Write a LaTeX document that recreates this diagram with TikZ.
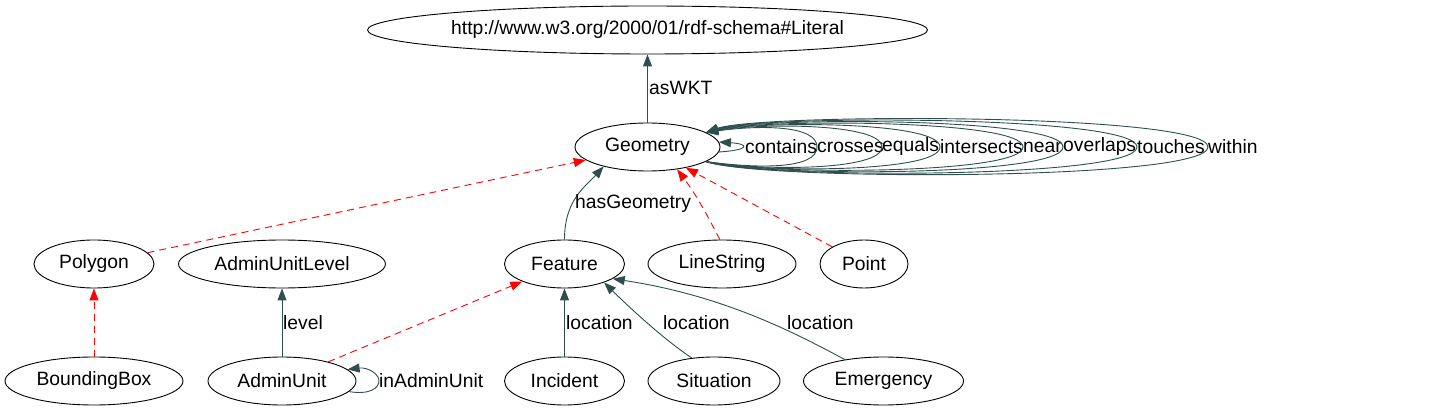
\documentclass[tikz,border=0pt]{standalone}
\usepackage{fontspec}
\setmainfont{Liberation Sans}
\usetikzlibrary{shapes.geometric,arrows.meta}
\definecolor{edgecol}{HTML}{2F4F4F}
\tikzset{
  cls/.style={ellipse,draw,line width=0.9pt,inner sep=0pt,minimum height=48pt,
    font=\fontsize{19.3}{22}\selectfont},
  prop/.style={draw=edgecol,line width=0.9pt,-{Triangle[length=12pt,width=9pt]}},
  isa/.style={draw=red,line width=0.9pt,dash pattern=on 7pt off 5pt,-{Triangle[length=12pt,width=9pt]}},
  lbl/.style={anchor=west,inner sep=0pt,font=\fontsize{19.3}{22}\selectfont}
}
\begin{document}
\begin{tikzpicture}[x=1pt,y=1pt]
\useasboundingbox (0,0) rectangle (1432,-411);
% nodes
\node[cls,minimum width=560pt] (lit) at (647.5,-30) {http://www.w3.org/2000/01/rdf-schema\#Literal};
\node[cls,minimum width=145pt] (geo) at (647.5,-147) {Geometry};
\node[cls,minimum width=120pt] (poly) at (94,-264) {Polygon};
\node[cls,minimum width=207pt] (aul) at (282,-264) {AdminUnitLevel};
\node[cls,minimum width=120pt] (feat) at (564.5,-264) {Feature};
\node[cls,minimum width=148pt] (lstr) at (722,-264) {LineString};
\node[cls,minimum width=88pt] (pt) at (864,-264) {Point};
\node[cls,minimum width=178pt] (bb) at (94,-381) {BoundingBox};
\node[cls,minimum width=148pt] (au) at (282,-381) {AdminUnit};
\node[cls,minimum width=120pt] (inc) at (564.5,-381) {Incident};
\node[cls,minimum width=132pt] (sit) at (714,-381) {Situation};
\node[cls,minimum width=160pt] (emg) at (883.5,-381) {Emergency};
% asWKT
\draw[prop] (geo) -- (lit);
\node[lbl] (l-aswkt) at (649,-88) {asWKT};
% hasGeometry
\draw[prop] (feat.north) .. controls (564.5,-200) and (585,-187) .. (geo.204);
\node[lbl] (l-hasgeo) at (575,-204) {hasGeometry};
% subclass edges to Geometry
\draw[isa] (poly) -- (geo);
\draw[isa] (lstr.95) .. controls (712,-225) and (700,-200) .. (geo.-37);
\draw[isa] (pt) -- (geo);
% BoundingBox -> Polygon
\draw[isa] (bb) -- (poly);
% level
\draw[prop] (au) -- (aul);
\node[lbl] (l-level) at (283,-323) {level};
% AdminUnit -> Feature
\draw[isa] (au) -- (feat);
% inAdminUnit loop
\draw[prop] (au.-9.5) .. controls (370,-395) and (379,-388) .. (379,-381)
  .. controls (379,-374) and (368,-367) .. (au.10);
\node[lbl] (l-inau) at (379,-381) {inAdminUnit};
% location edges
\draw[prop] (inc) -- (feat);
\node[lbl] (l-loc1) at (566,-323) {location};
\draw[prop] (sit.134) .. controls (672,-345) and (640,-318) .. (feat.-25.5);
\node[lbl] (l-loc2) at (663,-323) {location};
\draw[prop] (emg.151.4) .. controls (790,-330) and (720,-295) .. (feat.-17);
\node[lbl] (l-loc3) at (787,-323) {location};
% Geometry self loops
\draw[prop] (geo.-4) .. controls (750,-150) and (750,-144) .. (geo.4);
\node[lbl] (l-contains) at (745,-147) {contains};
\foreach \X/\c/\name in {817/22/crosses, 882/24/equals, 940/26/intersects, 1023/28/near, 1063/30/overlaps, 1137/32/touches, 1208/34/within}{
  \draw[prop] (geo.-14.2) .. controls (760,-147-\c) and (\X,-147-\c) .. (\X,-147)
    .. controls (\X,-147+\c) and (760,-147+\c) .. (geo.14.2);
  \node[lbl] (l-\name) at (\X,-147) {\name};
}
\end{tikzpicture}
\end{document}
